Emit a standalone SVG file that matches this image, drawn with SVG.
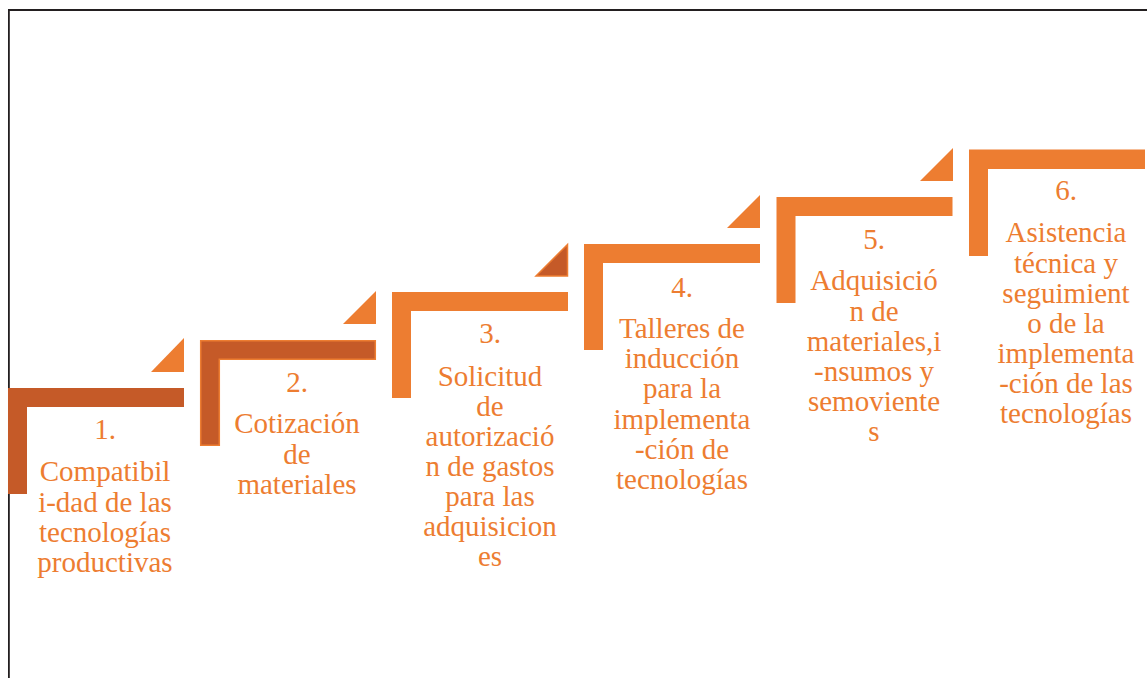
<svg xmlns="http://www.w3.org/2000/svg" width="1147" height="678" viewBox="0 0 1147 678">
<style>
.orange{fill:#ED7D31}
.dark{fill:#C55A28}
.outl{stroke:#ED7D31;stroke-width:1.5}
.lbl{font-family:"Liberation Serif","Times New Roman",serif;font-size:29px;fill:#ED7D31;text-anchor:middle}
.frame{stroke:#231F20;stroke-width:1.8;fill:none}
</style>
<rect width="1147" height="678" fill="#FFFFFF"/>
<path class="frame" d="M8.9 678 V10 H1147"/>
<g id="connectors"></g>
<g id="step1">
<path class="dark" d="M8 388 H184 V407 H27 V494 H8 Z"/>
<polygon class="orange" points="151,372 184,372 184,338"/>
<text class="lbl" x="105" y="439">1.</text>
<text class="lbl" x="105"><tspan x="105" y="481">Compatibil</tspan><tspan x="105" y="511.5">i-dad de las</tspan><tspan x="105" y="541.5">tecnologías</tspan><tspan x="105" y="571.5">productivas</tspan></text>
</g>
<g id="step2">
<path class="dark outl" d="M200.7 340.7 H375.3 V359.3 H219.3 V445.3 H200.7 Z"/>
<polygon class="orange" points="343,324 376,324 376,291"/>
<text class="lbl" x="297" y="392">2.</text>
<text class="lbl"><tspan x="297" y="433">Cotización</tspan><tspan x="297" y="463.5">de</tspan><tspan x="297" y="493.5">materiales</tspan></text>
</g>
<g id="step3">
<path class="orange" d="M392 292 H568 V311 H411 V398 H392 Z"/>
<polygon class="dark outl" points="536,276 567.5,276 567.5,244.5"/>
<text class="lbl" x="490" y="343">3.</text>
<text class="lbl"><tspan x="490" y="385.5">Solicitud</tspan><tspan x="490" y="416">de</tspan><tspan x="490" y="446">autorizació</tspan><tspan x="490" y="476">n de gastos</tspan><tspan x="490" y="506">para las</tspan><tspan x="490" y="536">adquisicion</tspan><tspan x="490" y="566">es</tspan></text>
</g>
<g id="step4">
<path class="orange" d="M584 244 H760 V263 H603 V350 H584 Z"/>
<polygon class="orange" points="727,228 760,228 760,195"/>
<text class="lbl" x="682" y="297">4.</text>
<text class="lbl"><tspan x="682" y="338">Talleres de</tspan><tspan x="682" y="368">inducción</tspan><tspan x="682" y="398">para la</tspan><tspan x="682" y="428.5">implementa</tspan><tspan x="682" y="459">-ción de</tspan><tspan x="682" y="489">tecnologías</tspan></text>
</g>
<g id="step5">
<path class="orange" d="M776.5 197 H952.5 V216 H795.5 V303 H776.5 Z"/>
<polygon class="orange" points="920,181 953,181 953,148"/>
<text class="lbl" x="874" y="248.5">5.</text>
<text class="lbl"><tspan x="874" y="290">Adquisició</tspan><tspan x="874" y="320.5">n de</tspan><tspan x="874" y="351">materiales,i</tspan><tspan x="874" y="381">-nsumos y</tspan><tspan x="874" y="411">semoviente</tspan><tspan x="874" y="441">s</tspan></text>
</g>
<g id="step6">
<path class="orange" d="M969 149.5 H1145 V169 H988 V256 H969 Z"/>
<text class="lbl" x="1066" y="200">6.</text>
<text class="lbl"><tspan x="1066" y="242">Asistencia</tspan><tspan x="1066" y="272.5">técnica y</tspan><tspan x="1066" y="302.5">seguimient</tspan><tspan x="1066" y="333">o de la</tspan><tspan x="1066" y="363">implementa</tspan><tspan x="1066" y="393">-ción de las</tspan><tspan x="1066" y="422.5">tecnologías</tspan></text>
</g>
</svg>
